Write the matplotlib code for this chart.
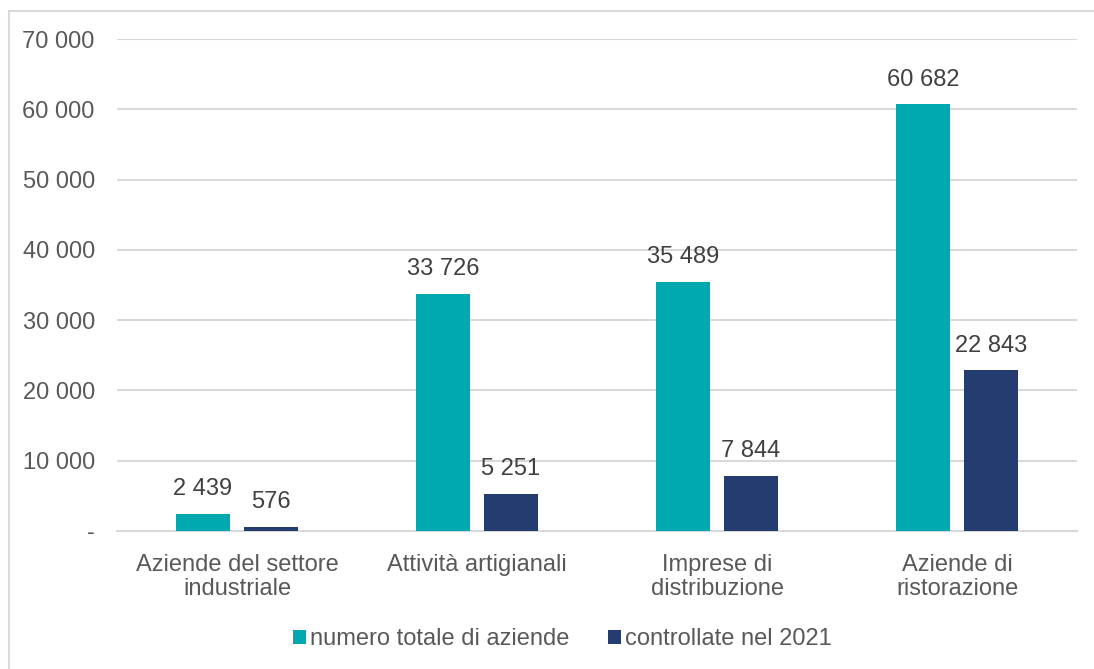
import matplotlib.pyplot as plt
from matplotlib.patches import Rectangle
import numpy as np

plt.rcParams['font.family'] = ['Liberation Sans', 'DejaVu Sans']

categories = ["Aziende del settore\nindustriale", "Attività artigianali",
              "Imprese di\ndistribuzione", "Aziende di\nristorazione"]
totale = [2439, 33726, 35489, 60682]
controllate = [576, 5251, 7844, 22843]
series_names = ["numero totale di aziende", "controllate nel 2021"]
yticks = [0, 10000, 20000, 30000, 40000, 50000, 60000, 70000]

TEAL = "#00A9B0"
NAVY = "#243C6F"
TXT = "#595959"


def fmt(v):
    return f"{v:,}".replace(",", " ")


fig = plt.figure(figsize=(10.94, 6.69), dpi=100)
ax = fig.add_axes([0.107, 0.2063, 0.8775, 0.7354])

# outer frame of the chart area
fig.patches.append(Rectangle((8.5 / 1094, -0.1), 1.2, 1 - 11.5 / 669 + 0.1,
                             transform=fig.transFigure, fill=False,
                             edgecolor="#D9D9D9", linewidth=1.5))

x = np.arange(len(categories))
w = 0.225
off = 0.1417
b1 = ax.bar(x - off, totale, w, color=TEAL, label=series_names[0], zorder=3)
b2 = ax.bar(x + off, controllate, w, color=NAVY, label=series_names[1], zorder=3)

for bars, vals in ((b1, totale), (b2, controllate)):
    for r, v in zip(bars, vals):
        ax.annotate(fmt(v), (r.get_x() + r.get_width() / 2, v),
                    xytext=(0, 10), textcoords="offset points",
                    ha="center", va="bottom", fontsize=17, color="#404040")

ax.set_xlim(-0.5, len(categories) - 0.5)
ax.set_ylim(0, 70000)
ax.set_yticks(yticks)
ax.set_yticklabels(["-"] + [fmt(t) for t in yticks[1:]])
ax.set_xticks(x)
ax.set_xticklabels(categories)
ax.tick_params(axis="both", length=0, labelsize=17, labelcolor=TXT)
ax.tick_params(axis="y", pad=16)
ax.tick_params(axis="x", pad=16.5)
for lbl in ax.get_xticklabels():
    lbl.set_linespacing(1.15)

ax.grid(axis="y", color="#D9D9D9", linewidth=1.5, zorder=0)
for s in ("top", "right", "left"):
    ax.spines[s].set_visible(False)
ax.spines["bottom"].set_color("#D9D9D9")
ax.spines["bottom"].set_linewidth(1.5)

fig.legend(loc="center", bbox_to_anchor=(0.514, 1 - 639 / 669), ncol=2,
           frameon=False, fontsize=17, labelcolor=TXT, handlelength=0.55,
           handleheight=0.55, handletextpad=0.2, columnspacing=1.6)

fig.savefig("out.png", dpi=100)
